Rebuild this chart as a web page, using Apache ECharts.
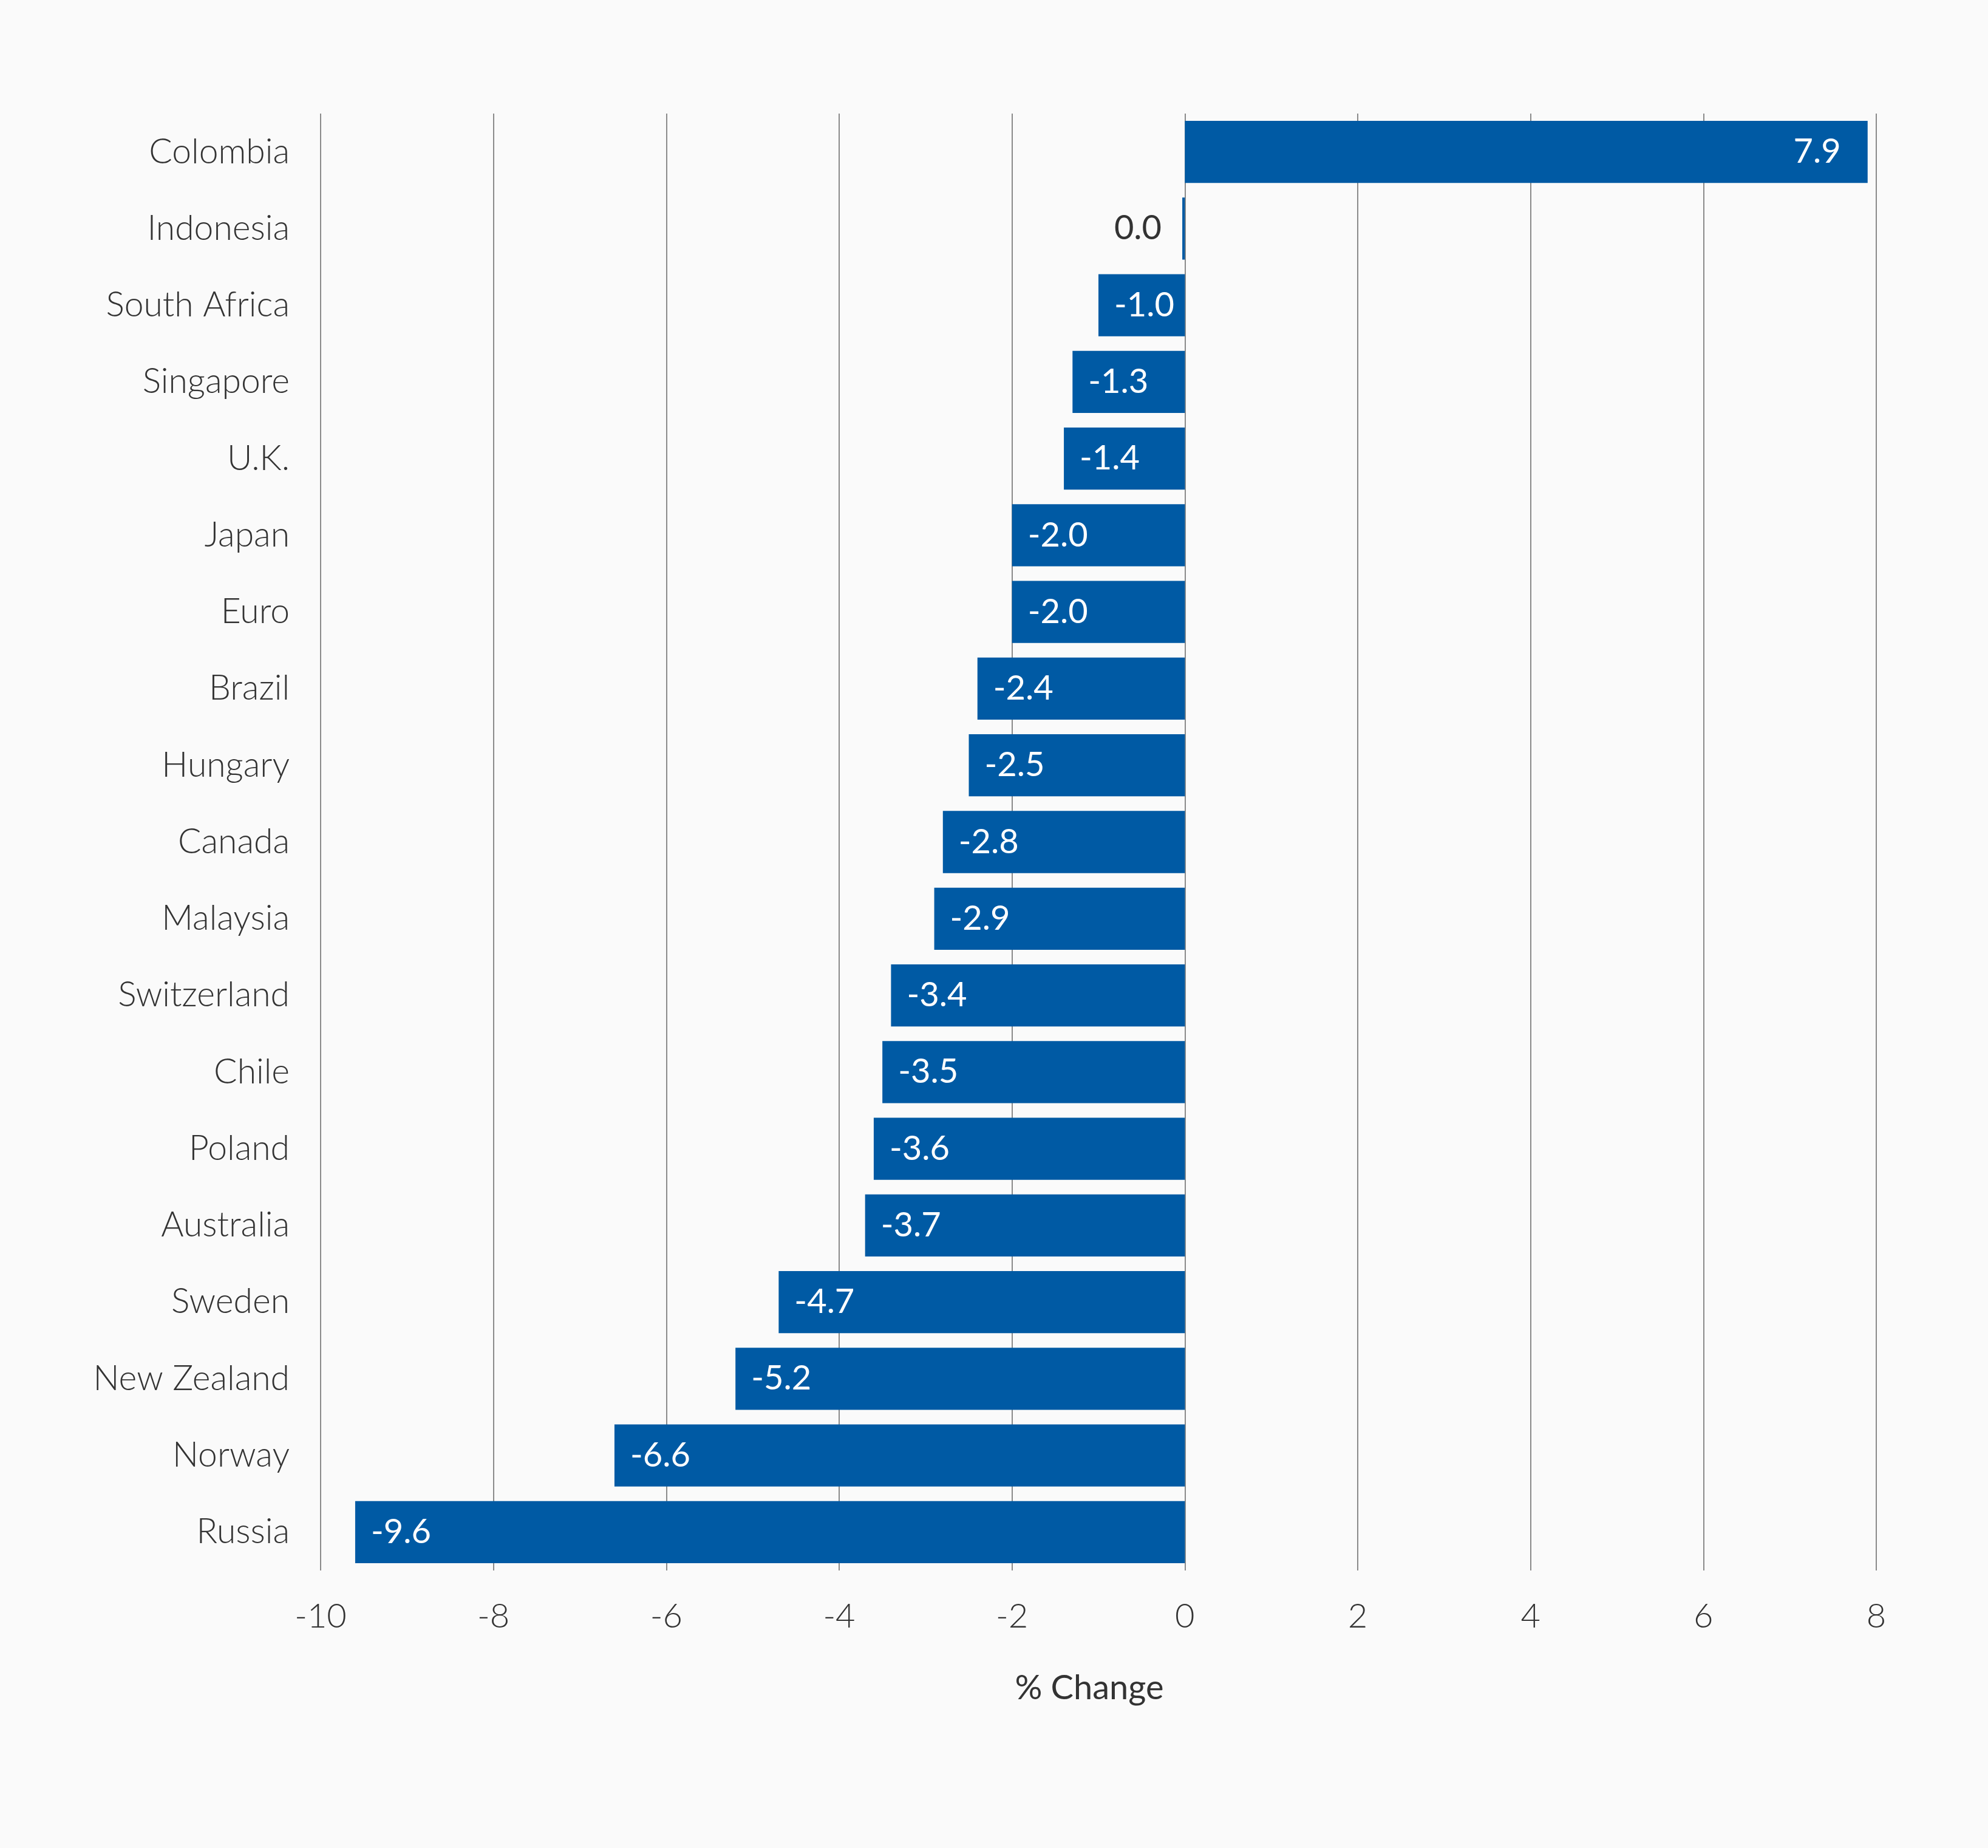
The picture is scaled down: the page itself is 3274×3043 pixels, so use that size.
<!DOCTYPE html>
<html>
<head>
<meta charset="utf-8">
<script src="https://cdn.jsdelivr.net/npm/echarts@6/dist/echarts.min.js"></script>
<style>
  html, body { margin: 0; padding: 0; background: #fafafa; }
  #chart { width: 3274px; height: 3043px; }
</style>
</head>
<body>
<div id="chart"></div>
<script>
var countries = ['Colombia', 'Indonesia', 'South Africa', 'Singapore', 'U.K.', 'Japan', 'Euro',
  'Brazil', 'Hungary', 'Canada', 'Malaysia', 'Switzerland', 'Chile', 'Poland', 'Australia',
  'Sweden', 'New Zealand', 'Norway', 'Russia'];
var changes = [7.9, -0.03, -1.0, -1.3, -1.4, -2.0, -2.0, -2.4, -2.5, -2.8, -2.9, -3.4, -3.5,
  -3.6, -3.7, -4.7, -5.2, -6.6, -9.6];
var axisName = '% Change';

var fontFam = 'Lato, "Open Sans", sans-serif';
var fmt = function (v) { return (Math.round(v * 10) / 10).toFixed(1); };

var barData = changes.map(function (v) {
  var item = { value: v };
  if (Math.abs(v) < 0.05) {
    item.label = { position: 'left', color: '#333', distance: 34 };
  } else if (v > 0) {
    item.label = { position: 'insideRight', distance: 44 };
  } else {
    item.label = { position: 'insideLeft', distance: 26 };
  }
  return item;
});

var chart = echarts.init(document.getElementById('chart'), null, { renderer: 'canvas' });
chart.setOption({
  backgroundColor: '#fafafa',
  animation: false,
  grid: { left: 528, right: 184, top: 187, bottom: 457 },
  xAxis: {
    type: 'value',
    min: -10,
    max: 8,
    interval: 2,
    name: axisName,
    nameLocation: 'middle',
    nameGap: 166,
    nameTextStyle: { fontSize: 56, color: '#333', fontFamily: fontFam, fontWeight: 400, padding: [0, 30, 0, 0] },
    axisLine: { show: false },
    axisTick: { show: false },
    axisLabel: { fontSize: 56, color: '#333', fontFamily: fontFam, fontWeight: 300, margin: 48 },
    splitLine: { show: true, lineStyle: { color: '#8a8a8a', width: 2 } }
  },
  yAxis: {
    type: 'category',
    data: countries,
    inverse: true,
    axisLine: { show: false },
    axisTick: { show: false },
    axisLabel: { fontSize: 57, color: '#333', fontFamily: fontFam, fontWeight: 300, margin: 51 }
  },
  series: [{
    type: 'bar',
    data: barData,
    barCategoryGap: '19%',
    itemStyle: { color: '#005aa4' },
    label: {
      show: true,
      color: '#fff',
      fontSize: 56,
      fontFamily: fontFam,
      fontWeight: 400,
      formatter: function (p) { return fmt(p.value); }
    }
  }]
});
</script>
</body>
</html>
